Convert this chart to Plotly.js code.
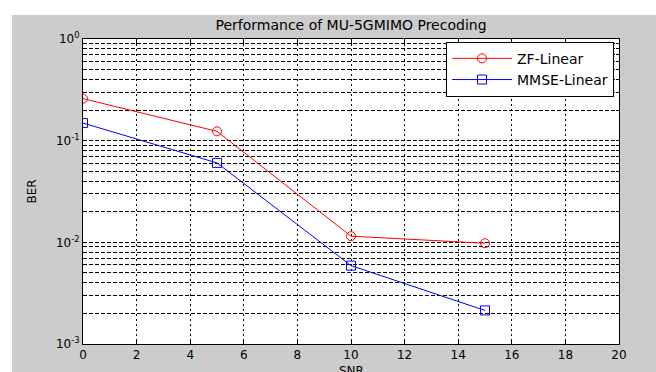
<!DOCTYPE html>
<html>
<head>
<meta charset="utf-8">
<script src="https://cdn.plot.ly/plotly-3.0.1.min.js"></script>
<style>
  html, body { margin: 0; padding: 0; background: #ffffff; width: 656px; height: 372px; overflow: hidden; }
  #chart { position: absolute; left: 12px; top: 15px; width: 644px; height: 357px; }
</style>
</head>
<body>
<div id="chart"></div>
<script>
// Data
const snr = [0, 5, 10, 15];
const berZF = [0.259, 0.1235, 0.0115, 0.0098];
const berMMSE = [0.149, 0.0604, 0.0059, 0.00214];
const xTicks = [0, 2, 4, 6, 8, 10, 12, 14, 16, 18, 20];
const decades = [-3, -2, -1, 0];
const decadeLabels = ['10<sup>-3</sup>', '10<sup>-2</sup>', '10<sup>-1</sup>', '10<sup>0</sup>'];

// log-axis tick positions (decades labelled, 2..9 unlabelled for the minor grid)
const yVals = [], yText = [];
decades.forEach((d, i) => {
  yVals.push(Math.pow(10, d)); yText.push(decadeLabels[i]);
  if (d < 0) {
    for (let m = 2; m <= 9; m++) { yVals.push(m * Math.pow(10, d)); yText.push(''); }
  }
});

const fam = 'DejaVu Sans, Verdana, sans-serif';
const font = { family: fam, size: 12, color: '#000000' };

const traces = [
  { x: snr, y: berZF, name: 'ZF-Linear', type: 'scatter', mode: 'lines+markers',
    line: { color: '#ff0000', width: 1 },
    marker: { symbol: 'circle-open', size: 9, color: '#ff0000', line: { width: 1 } } },
  { x: snr, y: berMMSE, name: 'MMSE-Linear', type: 'scatter', mode: 'lines+markers',
    line: { color: '#0000ff', width: 1 },
    marker: { symbol: 'square-open', size: 9, color: '#0000ff', line: { width: 1 } } }
];

const layout = {
  width: 644, height: 357,
  margin: { l: 71, r: 37, t: 24, b: 28 },
  paper_bgcolor: '#cccccc',
  plot_bgcolor: '#ffffff',
  font: font,
  showlegend: true,
  title: { text: 'Performance of MU-5GMIMO Precoding', font: { family: fam, size: 14, color: '#000' },
           x: 0.5, xref: 'paper', xanchor: 'center', y: 1, yref: 'paper', yanchor: 'bottom', pad: { b: 9 } },
  xaxis: {
    type: 'linear', range: [0, 20], tickvals: xTicks, ticktext: xTicks.map(String),
    showline: true, linecolor: '#000', linewidth: 1, mirror: 'ticks',
    ticks: 'inside', ticklen: 5, tickcolor: '#000',
    showgrid: true, gridcolor: '#000', gridwidth: 1, griddash: '2px,3px',
    zeroline: false, tickfont: font
  },
  yaxis: {
    type: 'log', range: [-3, 0], tickmode: 'array', tickvals: yVals, ticktext: yText,
    showline: true, linecolor: '#000', linewidth: 1, mirror: 'ticks',
    ticks: 'inside', ticklen: 3, tickcolor: '#000',
    showgrid: true, gridcolor: '#000', gridwidth: 1, griddash: '4px,2px',
    zeroline: false, tickfont: font,
    title: { text: 'BER', font: font, standoff: 16 }
  },
  annotations: [
    { text: 'SNR', xref: 'paper', yref: 'paper', x: 0.5, y: -0.087, xanchor: 'center', yanchor: 'middle',
      showarrow: false, font: font }
  ],
  legend: {
    x: 0.9907, xanchor: 'right', y: 0.991, yanchor: 'top',
    bgcolor: '#ffffff', bordercolor: '#000', borderwidth: 1,
    font: { family: fam, size: 14, color: '#000' }, tracegroupgap: 0, itemwidth: 60
  }
};

Plotly.newPlot('chart', traces, layout, { displayModeBar: false, staticPlot: true });
</script>
</body>
</html>
